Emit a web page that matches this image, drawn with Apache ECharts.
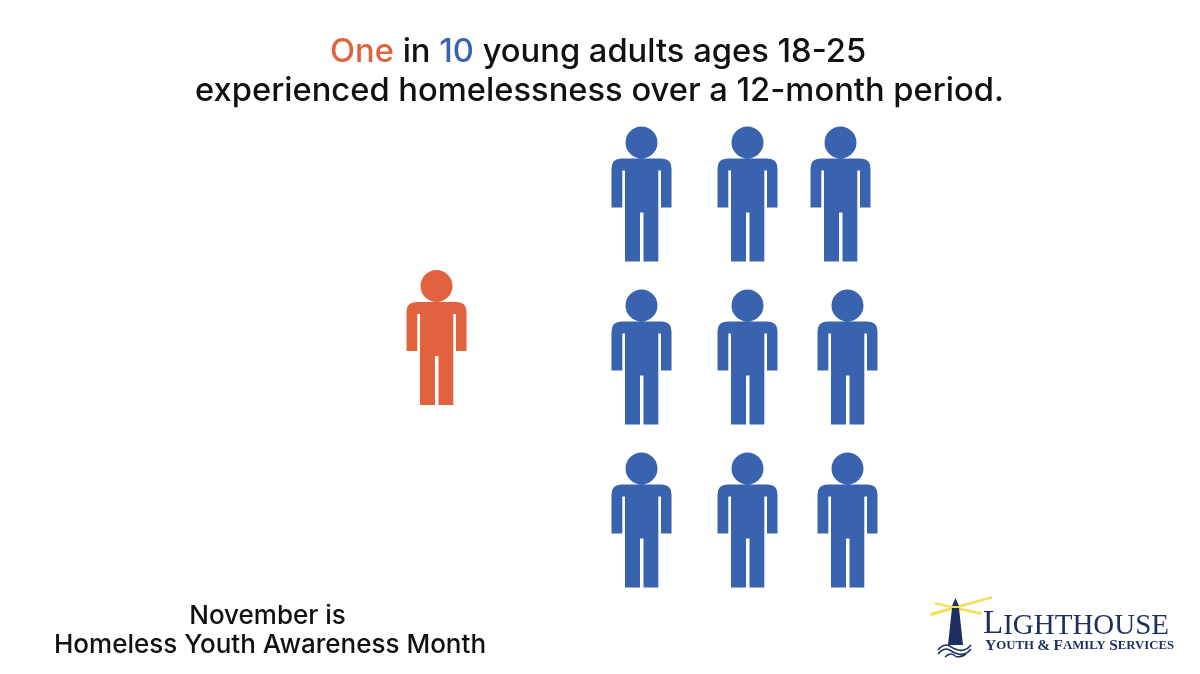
<!DOCTYPE html>
<html><head><meta charset="utf-8">
<style>html,body{margin:0;padding:0;background:#fff}#c{width:1200px;height:674px}</style>
<script src="https://cdn.jsdelivr.net/npm/echarts@6/dist/echarts.min.js"></script>
</head><body><div id="c"></div>
<script>
const youngAdultColumns = [0];
const youngAdultRows = [1.88];
const otherColumns = [2.05, 3.11, 4.04, 2.05, 3.11, 4.11, 2.05, 3.11, 4.11];
const otherRows = [1, 1, 1, 2, 2, 2, 3, 3, 3];
const headlineWords = ['One', ' in ', '10', ' young adults ages 18-25'];
const headlineLine2 = 'experienced homelessness over a 12-month period.';
const footerLines = ['November is', 'Homeless Youth Awareness Month'];

const RED = '#E0623F', BLUE = '#3A63AF', NAVY = '#1C2F5F', FONT = 'Inter';
const person = 'path://M30 0A16 16 0 1 1 29.99 0Z' +
  'M10 32L50 32Q60 32 60 42L60 81L49.5 81L49.5 44L46.8 44L46.8 135L32 135L32 86L28.5 86L28.5 135L13.5 135L13.5 44L10.8 44L10.8 81L0 81L0 42Q0 32 10 32Z';
const zip = (a, b) => a.map((v, i) => [v, b[i]]);

const chart = echarts.init(document.getElementById('c'), null, {renderer: 'canvas'});
chart.setOption({
  animation: false,
  backgroundColor: '#fff',
  grid: {left: 0, top: 31, width: 1200, height: 570.5},
  xAxis: {type: 'value', min: -4.365, max: 7.635, show: false},
  yAxis: {type: 'value', min: 0, max: 3.5, inverse: true, show: false},
  title: [
    {left: 325, top: 31, text: `{r|${headlineWords[0]}}{k|${headlineWords[1]}}{b|${headlineWords[2]}}{k|${headlineWords[3]}}`,
     textStyle: {rich: {
       r: {fontFamily: FONT, fontSize: 32.7, fontWeight: 500, color: RED},
       b: {fontFamily: FONT, fontSize: 32.7, fontWeight: 500, color: BLUE},
       k: {fontFamily: FONT, fontSize: 32.7, fontWeight: 500, color: '#111'}}}},
    {left: 594.5, textAlign: 'center', top: 70, text: headlineLine2,
     textStyle: {fontFamily: FONT, fontSize: 32.7, fontWeight: 500, color: '#111'}},
    {left: 262.5, textAlign: 'center', top: 598, text: footerLines[0],
     textStyle: {fontFamily: FONT, fontSize: 26, fontWeight: 500, color: '#111'}},
    {left: 265, textAlign: 'center', top: 627, text: footerLines[1],
     textStyle: {fontFamily: FONT, fontSize: 26, fontWeight: 500, color: '#111'}}
  ],
  series: [
    {type: 'scatter', symbol: person, symbolSize: [60, 135], clip: false, silent: true,
     itemStyle: {color: RED, opacity: 1}, data: zip(youngAdultColumns, youngAdultRows)},
    {type: 'scatter', symbol: person, symbolSize: [60, 135], clip: false, silent: true,
     itemStyle: {color: BLUE, opacity: 1}, data: zip(otherColumns, otherRows)}
  ],
  graphic: [
    {type: 'polygon', shape: {points: [[930,613],[992,596],[992,598.5],[931,616]]}, style: {fill: '#F2E05A'}},
    {type: 'polygon', shape: {points: [[935,602],[982,612.5],[981,615],[935,604.5]]}, style: {fill: '#F2E05A'}},
    {type: 'polygon', shape: {points: [[955.5,598],[959,606],[952,606]]}, style: {fill: NAVY}},
    {type: 'polygon', shape: {points: [[952,608],[959,608],[963,645],[948,645]]}, style: {fill: NAVY}},
    {type: 'polyline', shape: {points: [[938,650],[946,645],[955,649],[964,650],[971,645]], smooth: 0.5}, style: {stroke: NAVY, lineWidth: 1.6, fill: null}},
    {type: 'polyline', shape: {points: [[938,654],[946,649],[955,653],[964,654],[971,649]], smooth: 0.5}, style: {stroke: NAVY, lineWidth: 1.6, fill: null}},
    {type: 'polyline', shape: {points: [[945,657],[951,654],[958,657],[966,654]], smooth: 0.5}, style: {stroke: NAVY, lineWidth: 1.6, fill: null}},
    {type: 'text', left: 983, top: 608, style: {text: '{a|L}{b|IGHTHOUSE}', rich: {
      a: {fontFamily: 'Liberation Serif', fontSize: 33, fill: NAVY, verticalAlign: 'bottom'},
      b: {fontFamily: 'Liberation Serif', fontSize: 29, fill: NAVY, verticalAlign: 'bottom'}}}},
    {type: 'text', left: 985, top: 638, style: {text: '{a|Y}{b|OUTH} {a|&} {a|F}{b|AMILY} {a|S}{b|ERVICES}', rich: {
      a: {fontFamily: 'Liberation Serif', fontWeight: 'bold', fontSize: 15.5, fill: NAVY},
      b: {fontFamily: 'Liberation Serif', fontWeight: 'bold', fontSize: 12.8, fill: NAVY}}}}
  ]
});
</script></body></html>
